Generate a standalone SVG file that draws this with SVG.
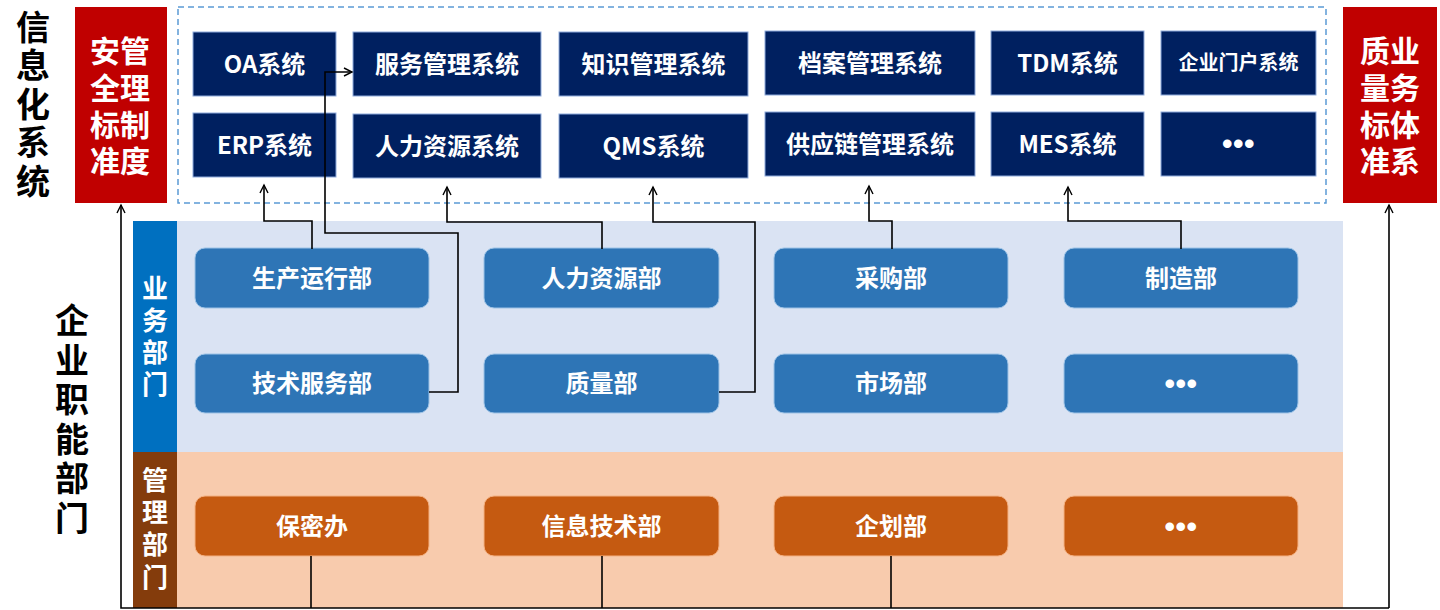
<svg xmlns="http://www.w3.org/2000/svg" width="1440" height="610" viewBox="0 0 1440 610">
<defs>
<style>
.t{font-family:"Noto Sans CJK SC","Liberation Sans",sans-serif;font-weight:bold;text-anchor:middle}
.v{font-family:"Noto Sans CJK SC","Liberation Sans",sans-serif;font-weight:bold;writing-mode:vertical-rl;text-anchor:start}
.dots{font-family:"Liberation Sans",sans-serif;font-weight:bold;text-anchor:middle;fill:#fff;font-size:30px;letter-spacing:0.5px}
.w{fill:#fff}
.k{fill:#000}
.sys{fill:#002060;stroke:#8eaadb;stroke-width:1}
.red{fill:#c00000}
.bd{fill:#2e75b6;stroke:#9dc3e6;stroke-width:1}
.md{fill:#c55a11;stroke:#f4b183;stroke-width:1}
.cn{fill:none;stroke:#000;stroke-width:1.6}
</style>
<marker id="arr" markerWidth="12" markerHeight="12" refX="10" refY="6" orient="auto" markerUnits="userSpaceOnUse">
<path d="M2,2 L10,6 L2,10" fill="none" stroke="#000" stroke-width="1.4"/>
</marker>
</defs>

<g id="bands">
<rect x="133" y="221" width="1210" height="231" fill="#dae3f3"/>
<rect x="133" y="452" width="1210" height="156" fill="#f8cbad"/>
<rect x="133" y="221" width="44" height="231" fill="#0070c0"/>
<rect x="133" y="452" width="44" height="156" fill="#843c0c"/>
</g>

<g id="title-info">
<text class="v k" font-size="34" x="33" y="10" letter-spacing="4.5">信息化系统</text>
</g>

<g id="title-dept">
<text class="v k" font-size="34" x="72" y="303" letter-spacing="5.6">企业职能部门</text>
</g>

<g id="safety">
<rect class="red" x="75" y="7" width="92" height="196"/>
<text class="v w" font-size="30" x="105" y="36" letter-spacing="6.7">安全标准</text>
<text class="v w" font-size="30" x="135" y="36" letter-spacing="6.7">管理制度</text>
</g>

<g id="quality">
<rect class="red" x="1343" y="7" width="94" height="196"/>
<text class="v w" font-size="30" x="1375" y="36" letter-spacing="6.7">质量标准</text>
<text class="v w" font-size="30" x="1405" y="36" letter-spacing="6.7">业务体系</text>
</g>

<g id="systems">
<rect x="178" y="7" width="1148" height="196" fill="none" stroke="#5b9bd5" stroke-width="1.5" stroke-dasharray="6 4"/>
</g>
<g id="sys-oa"><rect class="sys" x="193" y="32" width="143" height="64"/><text class="t w" font-size="24" x="264.5" y="73">OA系统</text></g>
<g id="sys-service"><rect class="sys" x="353" y="32" width="188" height="64"/><text class="t w" font-size="24" x="447" y="73">服务管理系统</text></g>
<g id="sys-knowledge"><rect class="sys" x="559" y="32" width="189" height="64"/><text class="t w" font-size="24" x="653.5" y="73">知识管理系统</text></g>
<g id="sys-archive"><rect class="sys" x="765" y="31" width="210" height="64"/><text class="t w" font-size="24" x="870" y="72">档案管理系统</text></g>
<g id="sys-tdm"><rect class="sys" x="991" y="31" width="153" height="64"/><text class="t w" font-size="24" x="1067.5" y="72">TDM系统</text></g>
<g id="sys-portal"><rect class="sys" x="1161" y="31" width="155" height="64"/><text class="t w" font-size="20" x="1238.5" y="70">企业门户系统</text></g>
<g id="sys-erp"><rect class="sys" x="193" y="113" width="143" height="64"/><text class="t w" font-size="24" x="264.5" y="154">ERP系统</text></g>
<g id="sys-hr"><rect class="sys" x="353" y="114" width="188" height="64"/><text class="t w" font-size="24" x="447" y="155">人力资源系统</text></g>
<g id="sys-qms"><rect class="sys" x="559" y="114" width="189" height="64"/><text class="t w" font-size="24" x="653.5" y="155">QMS系统</text></g>
<g id="sys-scm"><rect class="sys" x="765" y="112" width="210" height="64"/><text class="t w" font-size="24" x="870" y="153">供应链管理系统</text></g>
<g id="sys-mes"><rect class="sys" x="991" y="112" width="153" height="64"/><text class="t w" font-size="24" x="1067.5" y="153">MES系统</text></g>
<g id="sys-more"><rect class="sys" x="1161" y="112" width="155" height="64"/><text class="dots" x="1238.5" y="154">•••</text></g>

<g id="label-business">
<text class="v w" font-size="26" x="155" y="275" letter-spacing="6">业务部门</text>
</g>
<g id="label-management">
<text class="v w" font-size="26" x="155" y="467" letter-spacing="6.3">管理部门</text>
</g>

<g id="dept-production"><rect class="bd" x="195" y="248" width="234" height="60" rx="10"/><text class="t w" font-size="24" x="312" y="287">生产运行部</text></g>
<g id="dept-hr"><rect class="bd" x="484" y="248" width="235" height="60" rx="10"/><text class="t w" font-size="24" x="601.5" y="287">人力资源部</text></g>
<g id="dept-purchase"><rect class="bd" x="774" y="248" width="234" height="60" rx="10"/><text class="t w" font-size="24" x="891" y="287">采购部</text></g>
<g id="dept-manufacture"><rect class="bd" x="1064" y="248" width="234" height="60" rx="10"/><text class="t w" font-size="24" x="1181" y="287">制造部</text></g>
<g id="dept-techservice"><rect class="bd" x="195" y="354" width="234" height="59" rx="10"/><text class="t w" font-size="24" x="312" y="392">技术服务部</text></g>
<g id="dept-quality"><rect class="bd" x="484" y="354" width="235" height="59" rx="10"/><text class="t w" font-size="24" x="601.5" y="392">质量部</text></g>
<g id="dept-market"><rect class="bd" x="774" y="354" width="234" height="59" rx="10"/><text class="t w" font-size="24" x="891" y="392">市场部</text></g>
<g id="dept-more"><rect class="bd" x="1064" y="354" width="234" height="59" rx="10"/><text class="dots" x="1181" y="394">•••</text></g>

<g id="mgmt-secrecy"><rect class="md" x="195" y="496" width="234" height="60" rx="10"/><text class="t w" font-size="24" x="312" y="535">保密办</text></g>
<g id="mgmt-it"><rect class="md" x="484" y="496" width="235" height="60" rx="10"/><text class="t w" font-size="24" x="601.5" y="535">信息技术部</text></g>
<g id="mgmt-planning"><rect class="md" x="774" y="496" width="234" height="60" rx="10"/><text class="t w" font-size="24" x="891" y="535">企划部</text></g>
<g id="mgmt-more"><rect class="md" x="1064" y="496" width="234" height="60" rx="10"/><text class="dots" x="1181" y="537">•••</text></g>

<g id="connectors">
<path class="cn" d="M312,249 V221 H264 V185" marker-end="url(#arr)"/>
<path class="cn" d="M429,392 H458 V233 H325 V72 H352" marker-end="url(#arr)"/>
<path class="cn" d="M602,249 V222 H447 V187" marker-end="url(#arr)"/>
<path class="cn" d="M719,392 H755 V222 H653 V187" marker-end="url(#arr)"/>
<path class="cn" d="M892,249 V221 H869 V186" marker-end="url(#arr)"/>
<path class="cn" d="M1181,249 V221 H1068 V187" marker-end="url(#arr)"/>
<path class="cn" d="M311,556 V608"/>
<path class="cn" d="M602,556 V608"/>
<path class="cn" d="M891,556 V608"/>
<path class="cn" d="M1389,608 H121 V205" marker-end="url(#arr)"/>
<path class="cn" d="M1389,608 V205" marker-end="url(#arr)"/>
</g>
</svg>
